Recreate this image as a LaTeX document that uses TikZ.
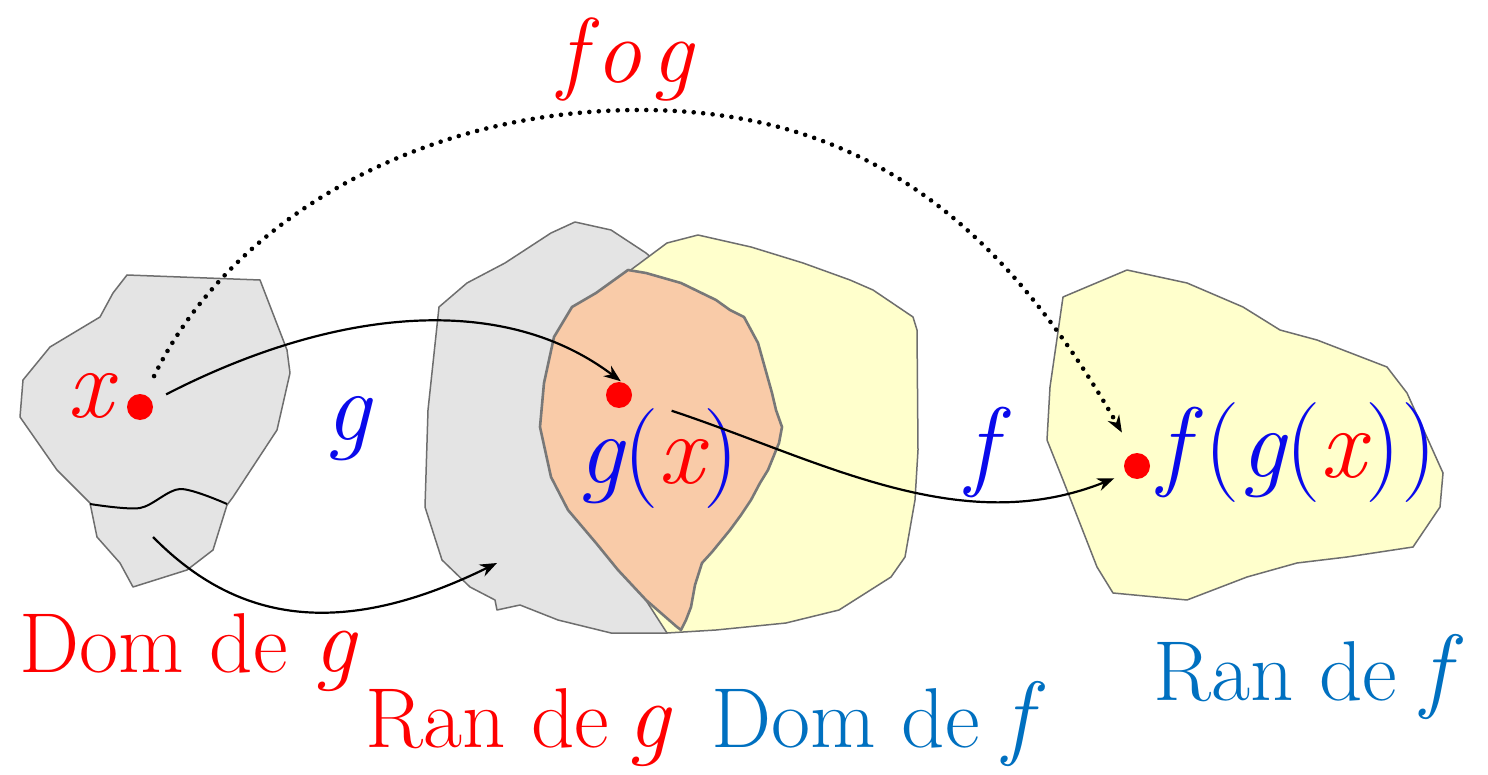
\documentclass[tikz,border=0pt]{standalone}
\usepackage{fontspec}
\usetikzlibrary{arrows.meta}
\definecolor{redc}{RGB}{255,0,0}
\definecolor{mblue}{RGB}{10,10,235}
\definecolor{tblue}{RGB}{0,112,192}
\definecolor{grayfill}{RGB}{228,228,228}
\definecolor{yellowfill}{RGB}{255,255,204}
\definecolor{orangefill}{RGB}{249,203,168}
\definecolor{edgec}{RGB}{110,110,110}
\definecolor{edgeo}{RGB}{120,120,120}
\newcommand{\bigit}[1]{{\fontsize{94}{94}\selectfont\itshape #1}}
\begin{document}
\begin{tikzpicture}[x=1pt,y=-1pt,
  blob/.style={draw=edgec,line width=1.5pt,line join=round},
  dot/.style={circle,fill=redc,minimum size=26pt,inner sep=0pt,outer sep=0pt},
  conn/.style={line width=2.2pt,-{Stealth[length=17pt,width=13pt]}},
  dotconn/.style={line width=4.6pt,dash pattern=on 0pt off 9.5pt,line cap=round,-{Stealth[length=17pt,width=13pt]}},
  mlabel/.style={inner sep=0pt,anchor=base west,font=\fontsize{100}{100}\selectfont\itshape},
  tlabel/.style={inner sep=0pt,anchor=base west,font=\fontsize{85}{85}\selectfont}]
\useasboundingbox[fill=white] (0,0) rectangle (1488,775);

% Dom g (left gray)
\path[blob,fill=grayfill] (127,275) -- (260,280) -- (287,350) -- (290,373) -- (277,430) -- (233,497) -- (227,505) -- (213,550) -- (187,570) -- (133,587) -- (120,563) -- (97,537) -- (90,503) -- (57,470) -- (20,417) -- (23,380) -- (50,347) -- (100,317) -- (113,293) -- cycle;
\draw[line width=2pt] plot[smooth] coordinates {(90,504) (140,508) (180,489) (227,504)};

% Ran g (gray)
\path[blob,fill=grayfill] (439,307) -- (467,283) -- (505,263) -- (551,233) -- (575,222) -- (611,230) -- (646,253) -- (700,300) -- (700,600) -- (667,633) -- (611,633) -- (558,620) -- (520,605) -- (497,610) -- (495,600) -- (470,587) -- (442,560) -- (425,507) -- (428,410) -- cycle;

% Dom f (yellow)
\path[blob,fill=yellowfill] (628,272) -- (667,243) -- (698,235) -- (751,247) -- (803,263) -- (850,280) -- (873,290) -- (913,317) -- (917,330) -- (918,450) -- (915,500) -- (905,557) -- (891,577) -- (839,610) -- (786,623) -- (716,630) -- (667,633) -- (620,560) -- (600,420) -- (610,300) -- cycle;

% intersection (orange)
\path[draw=edgeo,line width=2.6pt,line join=round,fill=orangefill] (628,270) -- (596,293) -- (572,307) -- (554,337) -- (544,383) -- (540,427) -- (551,477) -- (568,510) -- (596,543) -- (618,570) -- (646,600) -- (677,627) -- (681,630) -- (686,620) -- (691,607) -- (695,585) -- (702,563) -- (712,552) -- (730,530) -- (741,515) -- (751,500) -- (760,483) -- (768,470) -- (779,443) -- (782,427) -- (776,410) -- (772,393) -- (765,368) -- (758,343) -- (744,317) -- (730,310) -- (716,300) -- (681,283) -- (646,273) -- cycle;

% Ran f (right yellow)
\path[blob,fill=yellowfill] (1127,270) -- (1187,283) -- (1243,307) -- (1280,330) -- (1317,340) -- (1387,367) -- (1407,393) -- (1443,473) -- (1440,507) -- (1413,547) -- (1347,557) -- (1297,563) -- (1247,577) -- (1187,600) -- (1113,593) -- (1097,567) -- (1063,480) -- (1047,440) -- (1050,387) -- (1063,297) -- cycle;

% points
\node[dot] (xdot) at (140,407) {};
\node[dot] (gxdot) at (619,395) {};
\node[dot] (fgxdot) at (1137,466) {};
\coordinate (domin) at (153,537);
\coordinate (ranin) at (497,563);

% labels
\node[mlabel,text=redc] (xlab) at (67,417) {x};
\node[mlabel] (gxlab) at (578,483) {\textcolor{mblue}{g}\textcolor{mblue}{\upshape(}\textcolor{redc}{x}\textcolor{mblue}{\upshape)}};
\node[mlabel] (fgxlab) at (1158,477) {\textcolor{mblue}{f\,\upshape(}\textcolor{mblue}{g}\textcolor{mblue}{\upshape(}\textcolor{redc}{x}\textcolor{mblue}{\upshape))}};
\node[mlabel,text=mblue] (glab) at (325,440) {g};
\node[mlabel,text=mblue] (flab) at (966,477) {f};
\node[mlabel,text=redc,font=\fontsize{92}{92}\selectfont\itshape] (foglab) at (558,83) {f\hspace{10pt}o\hspace{10pt}g};

\node[tlabel,text=redc] (domg) at (19,672) {Dom de\hspace{26pt}\bigit{g}};
\node[tlabel,text=redc] (rang) at (365,747) {Ran de\hspace{18pt}\bigit{g}};
\node[tlabel,text=tblue] (domf) at (711,747) {Dom de\hspace{24pt}\bigit{f}};
\node[tlabel,text=tblue] (ranf) at (1153,700) {Ran de\hspace{24pt}\bigit{f}};

% connectors
\draw[conn,shorten <=16pt,shorten >=2pt] (xdot.24) .. controls (330,310) and (500,290) .. (gxdot.75);
\draw[conn,shorten <=42pt,shorten >=13pt] (gxdot.-11) .. controls (820,460) and (960,540) .. (fgxdot.215);
\draw[conn] (domin) .. controls (230,615) and (330,645) .. (ranin);
\draw[dotconn,shorten <=21pt,shorten >=24pt] (xdot.68) .. controls (230,220) and (420,110) .. (640,110) .. controls (860,110) and (1000,220) .. (fgxdot.104);
\end{tikzpicture}
\end{document}
